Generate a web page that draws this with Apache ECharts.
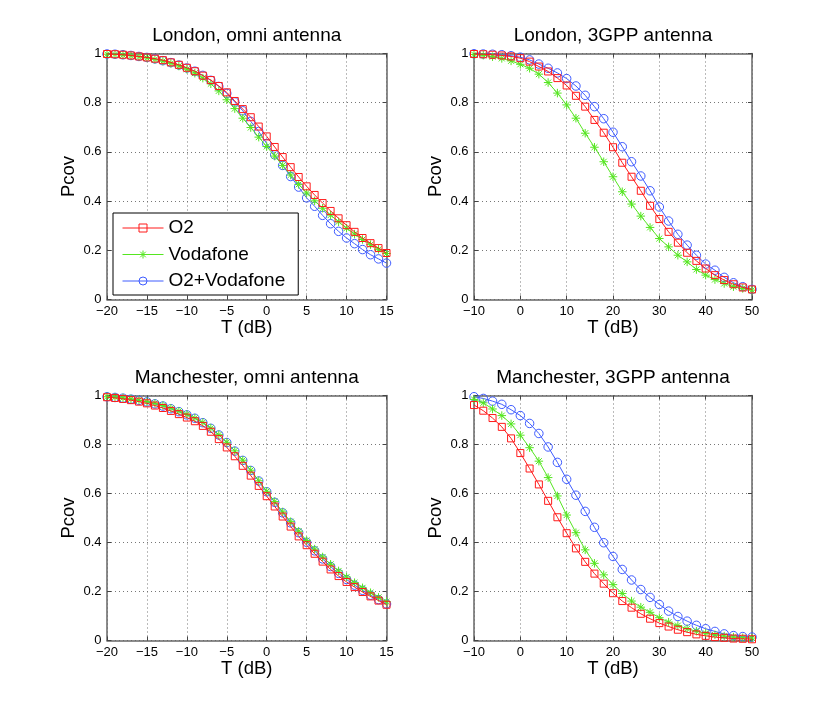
<!DOCTYPE html>
<html lang="en">
	<head>
		<meta charset="utf-8" />
		<title>Pcov vs T</title>
		<style>
			html,body{margin:0;padding:0;background:#fff;}
			#chart{width:830px;height:720px;}
		</style>
	</head>
	<body>
		<div id="chart"></div>
		<script src="https://cdn.jsdelivr.net/npm/echarts@6/dist/echarts.min.js"></script>
		<script>
		// x values (dB)
		const xOmni = [-20,-19,-18,-17,-16,-15,-14,-13,-12,-11,-10,-9,-8,-7,-6,-5,-4,-3,-2,-1,0,1,2,3,4,5,6,7,8,9,10,11,12,13,14,15];
		const x3gpp = [-10,-8,-6,-4,-2,0,2,4,6,8,10,12,14,16,18,20,22,24,26,28,30,32,34,36,38,40,42,44,46,48,50];

		const seriesNames = ['O2', 'Vodafone', 'O2+Vodafone'];

		// London, omni
		const londonOmniO2 = [0.998,0.997,0.995,0.992,0.988,0.984,0.979,0.973,0.964,0.954,
			0.942,0.928,0.910,0.892,0.868,0.842,0.807,0.774,0.741,0.703,
			0.663,0.620,0.579,0.538,0.498,0.460,0.425,0.392,0.360,0.330,
			0.302,0.275,0.250,0.229,0.209,0.189];
		const londonOmniVoda = [0.997,0.996,0.994,0.991,0.987,0.982,0.976,0.969,0.960,0.949,
			0.936,0.920,0.900,0.877,0.848,0.812,0.776,0.737,0.699,0.660,
			0.622,0.583,0.545,0.506,0.468,0.433,0.401,0.371,0.343,0.316,
			0.290,0.266,0.244,0.223,0.204,0.187];
		const londonOmniBoth = [0.998,0.997,0.995,0.992,0.988,0.984,0.978,0.971,0.963,0.953,
			0.941,0.928,0.911,0.891,0.866,0.838,0.803,0.767,0.724,0.683,
			0.634,0.588,0.545,0.500,0.457,0.413,0.379,0.342,0.308,0.277,
			0.250,0.227,0.203,0.182,0.165,0.148];

		// London, 3GPP
		const london3gppO2 = [0.998,0.997,0.995,0.992,0.988,0.981,0.967,0.947,0.927,0.900,
			0.870,0.828,0.784,0.730,0.678,0.619,0.556,0.499,0.442,0.381,
			0.327,0.275,0.231,0.190,0.157,0.126,0.099,0.079,0.062,0.049,0.041];
		const london3gppVoda = [0.996,0.993,0.987,0.980,0.970,0.956,0.940,0.916,0.882,0.839,
			0.791,0.737,0.676,0.619,0.560,0.499,0.438,0.388,0.339,0.293,
			0.248,0.214,0.180,0.153,0.122,0.099,0.081,0.065,0.052,0.045,0.038];
		const london3gppBoth = [0.999,0.998,0.997,0.995,0.991,0.985,0.974,0.957,0.940,0.921,
			0.898,0.868,0.830,0.784,0.735,0.680,0.621,0.560,0.502,0.442,
			0.376,0.319,0.265,0.221,0.180,0.144,0.119,0.090,0.068,0.052,0.041];

		// Manchester, omni
		const manOmniO2 = [0.993,0.990,0.986,0.981,0.975,0.968,0.959,0.949,0.937,0.924,
			0.910,0.895,0.876,0.852,0.822,0.788,0.752,0.713,0.673,0.631,
			0.589,0.547,0.506,0.465,0.425,0.389,0.354,0.322,0.290,0.263,
			0.239,0.218,0.198,0.180,0.163,0.146];
		const manOmniVoda = [0.995,0.993,0.990,0.986,0.981,0.975,0.968,0.959,0.948,0.936,
			0.923,0.908,0.890,0.867,0.840,0.809,0.774,0.736,0.695,0.652,
			0.609,0.567,0.525,0.485,0.446,0.408,0.373,0.341,0.311,0.284,
			0.259,0.236,0.215,0.195,0.176,0.158];
		const manOmniBoth = [0.995,0.992,0.989,0.985,0.980,0.974,0.966,0.957,0.946,0.934,
			0.921,0.907,0.889,0.866,0.839,0.808,0.773,0.735,0.694,0.651,
			0.607,0.564,0.521,0.480,0.440,0.401,0.366,0.333,0.302,0.274,
			0.249,0.226,0.205,0.185,0.167,0.149];

		// Manchester, 3GPP
		const man3gppO2 = [0.961,0.938,0.908,0.872,0.825,0.765,0.702,0.637,0.570,0.503,
			0.438,0.376,0.321,0.273,0.232,0.193,0.161,0.134,0.109,0.089,
			0.071,0.057,0.044,0.034,0.025,0.019,0.014,0.011,0.008,0.007,0.005];
		const man3gppVoda = [0.984,0.970,0.945,0.918,0.884,0.838,0.787,0.732,0.665,0.590,
			0.512,0.440,0.370,0.315,0.268,0.228,0.192,0.161,0.136,0.115,
			0.093,0.075,0.061,0.048,0.038,0.030,0.023,0.018,0.014,0.011,0.010];
		const man3gppBoth = [0.995,0.988,0.977,0.964,0.942,0.918,0.886,0.845,0.790,0.727,
			0.658,0.593,0.527,0.462,0.399,0.343,0.290,0.247,0.208,0.176,
			0.147,0.120,0.098,0.079,0.062,0.048,0.037,0.027,0.020,0.016,0.014];

		const font = '"Liberation Sans", Arial, Helvetica, sans-serif';
		const colors = ['#ff1a1a', '#55e620', '#3f5cff'];
		const symbols = ['rect', 'path://M5 0L5 10M0 5L10 5M1.5 1.5L8.5 8.5M8.5 1.5L1.5 8.5', 'circle'];
		const symbolSizes = [7, 8.5, 8.5];

		// 四个子图的位置
		const panels = [
			{title:'London, omni antenna', x:xOmni, min:-20, max:15, step:5, ys:[londonOmniO2, londonOmniVoda, londonOmniBoth], left:107, top:53.5, width:279.5, height:246},
			{title:'London, 3GPP antenna', x:x3gpp, min:-10, max:50, step:10, ys:[london3gppO2, london3gppVoda, london3gppBoth], left:474, top:53.5, width:278, height:246},
			{title:'Manchester, omni antenna', x:xOmni, min:-20, max:15, step:5, ys:[manOmniO2, manOmniVoda, manOmniBoth], left:107, top:395.5, width:279.5, height:245},
			{title:'Manchester, 3GPP antenna', x:x3gpp, min:-10, max:50, step:10, ys:[man3gppO2, man3gppVoda, man3gppBoth], left:474, top:395.5, width:278, height:245}
		];

		const frameLine = {onZero:false, lineStyle:{color:'#666', width:1.5}};
		const tick = {inside:true, length:4, lineStyle:{color:'#444', width:1}};
		const gridDots = {show:true, lineStyle:{color:'#777', width:1, type:[1,3]}};

		const grid = [], xAxis = [], yAxis = [], title = [], series = [];

		panels.forEach(function(p, i) {
			grid.push({left:p.left, top:p.top, width:p.width, height:p.height, containLabel:false});
			title.push({
				text:p.title, left:p.left + p.width / 2, top:p.top - 27.5, textAlign:'center', padding:0,
				textStyle:{fontSize:19, fontWeight:'normal', color:'#000', fontFamily:font}
			});
			xAxis.push({
				type:'value', gridIndex:i, position:'bottom', min:p.min, max:p.max, interval:p.step,
				name:'T (dB)', nameLocation:'middle', nameGap:18,
				nameTextStyle:{fontSize:18.5, color:'#000', fontFamily:font},
				axisLine:frameLine, axisTick:tick,
				axisLabel:{margin:5, fontSize:13, color:'#000', fontFamily:font, showMinLabel:true, showMaxLabel:true,
					formatter:function(v){ return String(v).replace('-', '\u2212'); }},
				splitLine:gridDots
			});
			xAxis.push({
				type:'value', gridIndex:i, position:'top', min:p.min, max:p.max, interval:p.step,
				axisLine:frameLine, axisTick:tick, axisLabel:{show:false}, splitLine:{show:false}
			});
			yAxis.push({
				type:'value', gridIndex:i, position:'left', min:0, max:1, interval:0.2,
				name:'Pcov', nameLocation:'middle', nameGap:29,
				nameTextStyle:{fontSize:18.5, color:'#000', fontFamily:font},
				axisLine:frameLine, axisTick:tick,
				axisLabel:{margin:5.5, fontSize:13, color:'#000', fontFamily:font, showMinLabel:true, showMaxLabel:true,
					formatter:function(v){ return String(+v.toFixed(1)); }},
				splitLine:gridDots
			});
			yAxis.push({
				type:'value', gridIndex:i, position:'right', min:0, max:1, interval:0.2,
				axisLine:frameLine, axisTick:tick, axisLabel:{show:false}, splitLine:{show:false}
			});
			p.ys.forEach(function(arr, k) {
				series.push({
					name:seriesNames[k], type:'line', xAxisIndex:2 * i, yAxisIndex:2 * i,
					data:p.x.map(function(v, j){ return [v, arr[j]]; }),
					symbol:symbols[k], symbolSize:symbolSizes[k], showAllSymbol:true,
					lineStyle:{color:colors[k], width:1},
					itemStyle:{color:'rgba(255,255,255,0)', borderColor:colors[k], borderWidth:1},
					emphasis:{disabled:true}, z:2 + (2 - k)
				});
			});
		});

		const chart = echarts.init(document.getElementById('chart'));
		chart.setOption({
			animation:false,
			backgroundColor:'#fff',
			title:title,
			grid:grid,
			xAxis:xAxis,
			yAxis:yAxis,
			legend:{
				data:seriesNames, orient:'vertical', left:113, top:213,
				padding:[5.5, 13, 4.5, 9], itemGap:7.5, itemWidth:41, itemHeight:10,
				backgroundColor:'#fff', borderColor:'#000', borderWidth:1, borderRadius:0,
				selectedMode:false,
				lineStyle:{width:1},
				itemStyle:{borderWidth:1},
				textStyle:{fontSize:19, lineHeight:19, color:'#000', fontFamily:font}
			},
			series:series
		});
		</script>
	</body>
</html>
